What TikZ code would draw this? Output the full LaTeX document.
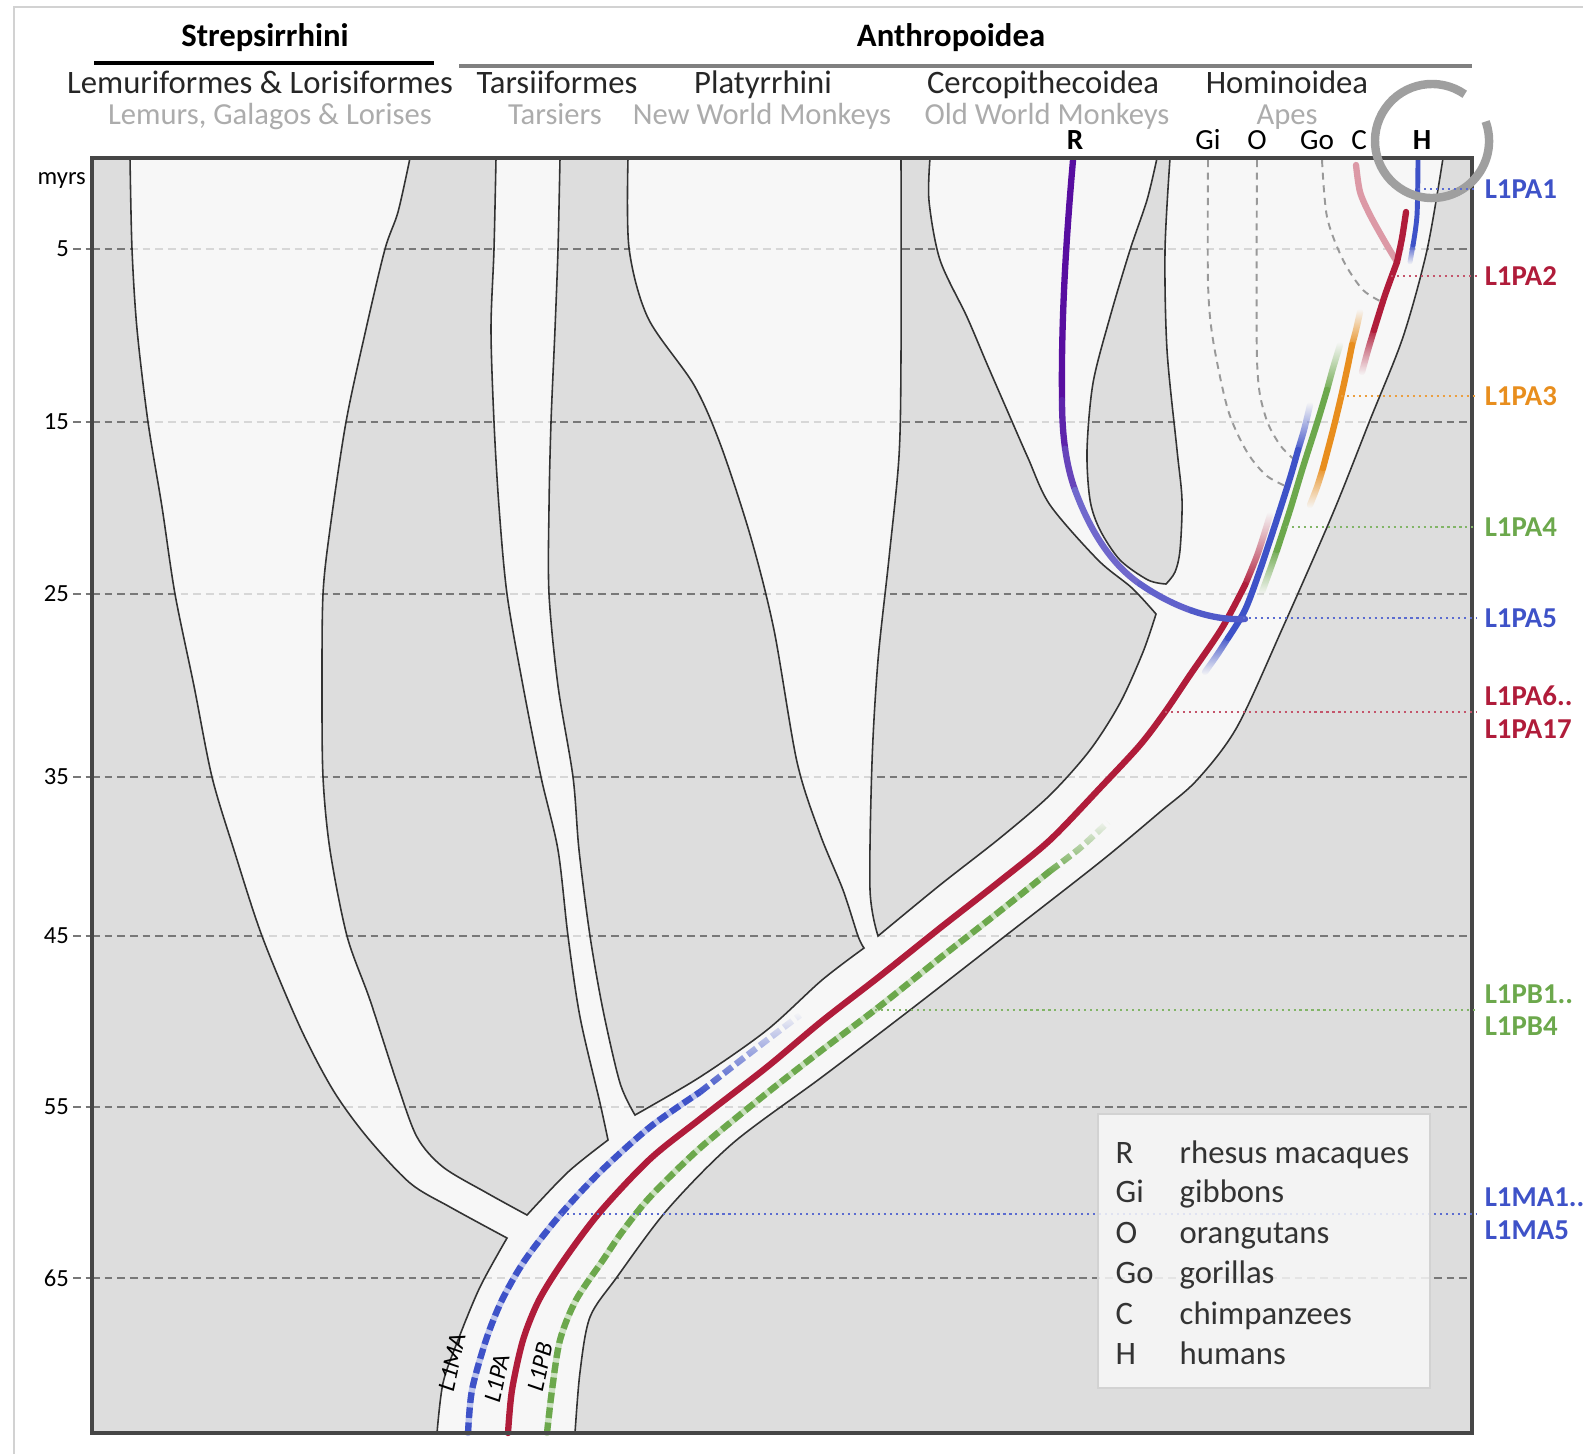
\documentclass[tikz,border=0pt]{standalone}
\usepackage{fontspec}
\setmainfont{Carlito}
\usetikzlibrary{fadings}

\definecolor{bgdark}{RGB}{221,221,221}
\definecolor{bglight}{RGB}{247,247,247}
\definecolor{l1blue}{RGB}{62,82,200}
\definecolor{l1red}{RGB}{176,28,58}
\definecolor{l1orange}{RGB}{232,142,30}
\definecolor{l1green}{RGB}{108,168,76}
\definecolor{rpurple}{RGB}{88,14,160}
\definecolor{rlav}{RGB}{112,104,204}
\definecolor{subgray}{RGB}{172,172,172}
\definecolor{gridgray}{RGB}{120,120,120}
\definecolor{framegray}{RGB}{70,70,70}

\tikzfading[name=fadetop, top color=transparent!100, bottom color=transparent!0]
\tikzfading[name=fadebottom, top color=transparent!0, bottom color=transparent!100]

% gaps between the lineages (grey areas of the plot)
\newcommand{\gapregions}{%
  (92,158) -- plot[smooth] coordinates {(130,158) (132,249) (137,329) (148,422) (162,507) (175,594) (194,686) (212,777) (234,850) (262,936) (300,1027) (333,1090) (367,1137) (410,1183) (450,1207) (507,1238)}
    -- plot[smooth] coordinates {(507,1238) (480,1287) (458,1340) (443,1383) (437,1433)} -- (92,1433) -- cycle
  (410,158) -- plot[smooth] coordinates {(496,158) (494,249) (491,329) (494,422) (499,507) (507,594) (523,686) (541,777) (558,850) (568,936) (580,1017) (600,1103) (608,1140)}
    -- plot[smooth] coordinates {(608,1140) (568,1172) (527,1215)}
    -- plot[smooth] coordinates {(527,1215) (487,1193) (443,1167) (417,1137) (397,1083) (370,1000) (347,936) (330,850) (323,777) (322,686) (323,594) (330,529) (346,422) (366,329) (385,249) (398,212) (410,158)} -- cycle
  (560,158) -- plot[smooth] coordinates {(628,158) (629,248) (648,318) (694,385) (721,446) (751,538) (774,630) (797,762) (820,834) (843,890) (858,936) (864,948)}
    -- plot[smooth] coordinates {(864,948) (822,980) (767,1030) (700,1077) (635,1115)}
    -- plot[smooth] coordinates {(635,1115) (620,1083) (603,1010) (590,936) (579,850) (573,777) (558,686) (549,594) (549,507) (551,422) (555,329) (558,249) (560,158)} -- cycle
  (901,158) -- plot[smooth] coordinates {(930,158) (929,201) (940,260) (967,317) (987,364) (1007,410) (1028,458) (1050,505) (1098,560) (1132,588) (1156,614)}
    -- plot[smooth] coordinates {(1156,614) (1143,652) (1120,703) (1090,750) (1050,795) (1000,838) (940,885) (878,936)}
    -- plot[smooth] coordinates {(878,936) (870,890) (872,762) (878,660) (889,558) (899,456) (901,354) (901,158)} -- cycle
  (1157,158) -- plot[smooth] coordinates {(1157,158) (1147,200) (1130,250) (1110,317) (1093,383) (1087,450) (1090,500) (1100,530) (1120,560) (1148,580) (1166,584)}
    -- plot[smooth] coordinates {(1166,584) (1175,572) (1180,550) (1182,500) (1177,450) (1167,350) (1165,250) (1170,158)} -- cycle
  (1443,158) -- (1472,158) -- (1472,1433) -- (575,1433)
    -- plot[smooth] coordinates {(575,1433) (580,1372) (590,1317) (617,1277) (667,1210) (733,1143) (822,1077) (910,1010) (1000,940) (1100,862) (1160,812) (1197,780) (1237,727) (1283,627) (1333,513) (1370,420) (1403,337) (1427,250) (1443,158)} -- cycle
}

\begin{document}
\begin{tikzpicture}[x=0.01cm, y=-0.01cm]

    % Define styles
    \tikzstyle{clade} = [anchor=base, inner sep=0, font=\fontsize{9.3}{11}\selectfont\bfseries]
    \tikzstyle{taxon} = [anchor=base, inner sep=0, font=\fontsize{9.3}{11}\selectfont, text=black!85]
    \tikzstyle{common} = [taxon, font=\fontsize{8.7}{10}\selectfont, text=subgray]
    \tikzstyle{species} = [anchor=base, inner sep=0, font=\fontsize{8.3}{10}\selectfont]
    \tikzstyle{agelabel} = [anchor=east, inner sep=1pt, font=\fontsize{7}{8}\selectfont]
    \tikzstyle{gridline} = [draw=gridgray, line width=0.6pt, dash pattern=on 2.2pt off 1.4pt]
    \tikzstyle{gridfaint} = [gridline, draw=gridgray!30]
    \tikzstyle{edgeline} = [draw=black!80, line width=0.45pt]
    \tikzstyle{lineage} = [line width=1.8pt, line cap=round]
    \tikzstyle{dashline} = [line cap=butt, dash pattern=on 3pt off 1.3pt]
    \tikzstyle{apedash} = [draw=gray!80, line width=0.55pt, dash pattern=on 2pt off 1.6pt]
    \tikzstyle{leader} = [line width=0.8pt, dash pattern=on 0.6pt off 1.1pt]
    \tikzstyle{famlabel} = [anchor=west, inner sep=2pt, align=left, font=\fontsize{8.2}{9.3}\selectfont\bfseries]
    \tikzstyle{trunklabel} = [rotate=78, inner sep=0, font=\fontsize{7}{8}\selectfont\itshape]
    \tikzstyle{legendtext} = [anchor=base west, inner sep=0, font=\fontsize{9.3}{11}\selectfont, text=black!80]

    \useasboundingbox (0,0) rectangle (1583,1454);
    \draw[gray!35, line width=0.5pt] (14,1454) -- (14,7) -- (1583,7);

    % Plot area and time grid
    \fill[bglight] (92,158) rectangle (1472,1433);
    \foreach \yy in {249,422,594,777,936,1107,1278}
        \draw[gridfaint] (92,\yy) -- (1472,\yy);
    \fill[bgdark] \gapregions;
    \begin{scope}
        \clip \gapregions;
        \foreach \yy in {249,422,594,777,936,1107,1278}
            \draw[gridline] (92,\yy) -- (1472,\yy);
    \end{scope}
    \draw[edgeline] \gapregions;
    \foreach \yy/\age in {249/5, 422/15, 594/25, 777/35, 936/45, 1107/55, 1278/65} {
        \node[agelabel] (age\age) at (73,\yy) {\age};
        \draw[gridline] (age\age.east) -- (92,\yy);
    }
    \node[agelabel] (myrs) at (90,180) {myrs};

    % Ape branches (dashed)
    \draw[apedash] plot[smooth] coordinates {(1208,160) (1208,283) (1213,340) (1228,410) (1247,452) (1267,476) (1290,488)};
    \draw[apedash] plot[smooth] coordinates {(1257,160) (1257,360) (1265,415) (1280,445) (1297,462)};
    \draw[apedash] plot[smooth] coordinates {(1322,160) (1327,217) (1343,260) (1363,290) (1384,303)};

    % L1PA (red)
    \draw[lineage, l1red] plot[smooth] coordinates {(508,1433) (512,1390) (523,1340) (539,1300) (564,1260) (600,1212) (650,1159) (700,1119) (767,1067) (822,1021) (880,976) (940,928) (1000,881) (1050,840) (1100,788) (1140,745) (1165,712) (1190,675) (1222,628) (1245,585)};
    \draw[lineage, l1red, path fading=fadetop] plot[smooth] coordinates {(1245,585) (1258,553) (1270,515)};

    % L1MA (blue, dashed)
    \draw[lineage, l1blue!35] plot[smooth] coordinates {(468,1433) (472,1390) (486,1340) (502,1300) (525,1260) (560,1215) (600,1172) (650,1127) (700,1092)};
    \draw[lineage, dashline, l1blue] plot[smooth] coordinates {(468,1433) (472,1390) (486,1340) (502,1300) (525,1260) (560,1215) (600,1172) (650,1127) (700,1092)};
    \draw[lineage, dashline, l1blue, path fading=fadetop] plot[smooth] coordinates {(700,1092) (750,1053) (800,1015)};

    % L1PB (green, dashed)
    \draw[lineage, l1green!35] plot[smooth] coordinates {(547,1433) (552,1390) (560,1340) (576,1300) (603,1260) (622,1232) (650,1197) (700,1148) (767,1093) (822,1050) (880,1006) (940,958) (1000,911) (1050,871)};
    \draw[lineage, dashline, l1green] plot[smooth] coordinates {(547,1433) (552,1390) (560,1340) (576,1300) (603,1260) (622,1232) (650,1197) (700,1148) (767,1093) (822,1050) (880,1006) (940,958) (1000,911) (1050,871)};
    \draw[lineage, dashline, l1green, path fading=fadetop] plot[smooth] coordinates {(1050,871) (1080,848) (1108,822)};

    % L1PA5 (blue)
    \draw[lineage, l1blue, path fading=fadebottom] plot[smooth] coordinates {(1205,672) (1217,655) (1228,638)};
    \draw[lineage, l1blue] plot[smooth] coordinates {(1228,638) (1245,610) (1260,570) (1275,525) (1290,478) (1298,450)};
    \draw[lineage, l1blue, path fading=fadetop] plot[smooth] coordinates {(1298,450) (1304,430) (1310,405)};

    % L1PA4 (green)
    \draw[lineage, l1green, path fading=fadebottom] plot[smooth] coordinates {(1262,592) (1270,570) (1277,550)};
    \draw[lineage, l1green] plot[smooth] coordinates {(1277,550) (1290,510) (1303,467) (1318,420) (1327,390)};
    \draw[lineage, l1green, path fading=fadetop] plot[smooth] coordinates {(1327,390) (1333,368) (1340,345)};

    % L1PA3 (orange)
    \draw[lineage, l1orange, path fading=fadebottom] plot[smooth] coordinates {(1310,505) (1317,487) (1323,468)};
    \draw[lineage, l1orange] plot[smooth] coordinates {(1323,468) (1333,430) (1341,397) (1348,365) (1352,345)};
    \draw[lineage, l1orange, path fading=fadetop] plot[smooth] coordinates {(1352,345) (1356,330) (1360,312)};

    % L1PA2 (red) and L1PA1 (blue)
    \draw[lineage, l1red, path fading=fadebottom] plot[smooth] coordinates {(1362,372) (1368,350) (1374,330)};
    \draw[lineage, l1red!45] plot[smooth] coordinates {(1397,262) (1385,242) (1370,215) (1360,192) (1356,165)};
    \draw[lineage, l1red] plot[smooth] coordinates {(1374,330) (1385,295) (1397,262)};
    \draw[lineage, l1red] plot[smooth] coordinates {(1397,262) (1402,238) (1406,212)};
    \draw[lineage, l1blue, line width=1.4pt] plot[smooth] coordinates {(1418,160) (1417,215) (1413,245)};
    \draw[lineage, l1blue, line width=1.4pt, path fading=fadebottom] (1413,245) -- (1410,262);

    % rhesus macaque lineage
    \draw[lineage, rpurple] (1073,160) .. controls (1066,240) and (1061,320) .. (1062,400);
    \draw[lineage, rpurple!75!rlav] (1062,400) .. controls (1062,417.5) and (1063,433.75) .. (1065.1,448.75);
    \draw[lineage, rpurple!40!rlav] (1065.1,448.75) .. controls (1067.25,463.75) and (1070.5,477.5) .. (1075,490);
    \draw[lineage, rlav] (1075,490) .. controls (1088,525) and (1108,562) .. (1140,584);
    \draw[lineage, rlav!70!l1blue] (1140,584) .. controls (1156,595) and (1173.5,604.25) .. (1191.4,610.5);
    \draw[lineage, rlav!35!l1blue] (1191.4,610.5) .. controls (1209.25,616.75) and (1227.5,620) .. (1245,619);

    % Plot frame
    \draw[framegray, line width=1pt] (92,158) rectangle (1472,1433);

    % Place header nodes
    \node[clade] (strep) at (265,46) {Strepsirrhini};
    \draw[black, line width=1.1pt] (94,63) -- (434,63);
    \node[clade] (anthro) at (951,46) {Anthropoidea};
    \draw[gray, line width=1pt] (459,66) -- (1472,66);

    \node[taxon] (lemuri) at (260,93) {Lemuriformes \& Lorisiformes};
    \node[taxon] (tarsii) at (557,93) {Tarsiiformes};
    \node[taxon] (platy) at (763,93) {Platyrrhini};
    \node[taxon] (cerco) at (1043,93) {Cercopithecoidea};
    \node[taxon] (homin) at (1287,93) {Hominoidea};
    \node[common] (lemurs) at (270,124) {Lemurs, Galagos \& Lorises};
    \node[common] (tarsiers) at (555,124) {Tarsiers};
    \node[common] (nwm) at (762,124) {New World Monkeys};
    \node[common] (owm) at (1047,124) {Old World Monkeys};
    \node[common] (apes) at (1287,124) {Apes};

    \node[species, font=\fontsize{8.3}{10}\selectfont\bfseries] (spR) at (1075,149) {R};
    \node[species] (spGi) at (1208,149) {Gi};
    \node[species] (spO) at (1257,149) {O};
    \node[species] (spGo) at (1317,149) {Go};
    \node[species] (spC) at (1359,149) {C};
    \node[species, font=\fontsize{8.3}{10}\selectfont\bfseries] (spH) at (1422,149) {H};
    \draw[gray!75, line width=2.4pt] (1432,141) ++(55:0.57cm) arc[start angle=55, end angle=380, radius=0.57cm];

    % Trunk labels
    \node[trunklabel] (mafam) at (452,1362) {L1MA};
    \node[trunklabel] (pafam) at (497,1378) {L1PA};
    \node[trunklabel] (pbfam) at (540,1367) {L1PB};

    % Subfamily labels
    \node[famlabel, text=l1blue] (pa1) at (1477,189) {L1PA1};
    \node[famlabel, text=l1red] (pa2) at (1477,276) {L1PA2};
    \node[famlabel, text=l1orange] (pa3) at (1477,396) {L1PA3};
    \node[famlabel, text=l1green] (pa4) at (1477,527) {L1PA4};
    \node[famlabel, text=l1blue] (pa5) at (1477,618) {L1PA5};
    \node[famlabel, text=l1red] (pa6) at (1477,712) {L1PA6..\\L1PA17};
    \node[famlabel, text=l1green] (pb) at (1477,1010) {L1PB1..\\L1PB4};
    \node[famlabel, text=l1blue] (ma) at (1477,1214) {L1MA1..\\L1MA5};

    \coordinate (pa1start) at (1418,189);
    \coordinate (pa2start) at (1391,276);
    \coordinate (pa3start) at (1341,396);
    \coordinate (pa4start) at (1286,527);
    \coordinate (pa5start) at (1243,618);
    \coordinate (pa6start) at (1165,712);
    \coordinate (pbstart) at (875,1010);
    \coordinate (mastart) at (561,1214);

    % Draw leaders
    \draw[leader, l1blue!85] (pa1start) -- (pa1.west);
    \draw[leader, l1red!75] (pa2start) -- (pa2.west);
    \draw[leader, l1orange!85] (pa3start) -- (pa3.west);
    \draw[leader, l1green!85] (pa4start) -- (pa4.west);
    \draw[leader, l1blue!85] (pa5start) -- (pa5.west);
    \draw[leader, l1red!75] (pa6start) -- (pa6.west);
    \draw[leader, l1green!85] (pbstart) -- (pb.west);
    \draw[leader, l1blue!85] (mastart) -- (ma.west);

    % Legend
    \node[draw=gray!35, fill=bglight, fill opacity=0.85, minimum width=3.32cm, minimum height=2.74cm, inner sep=0] (legendbox) at (1264,1251) {};
    \foreach \yy/\ab/\nm [count=\i] in {1163/R/rhesus macaques, 1202/Gi/gibbons, 1243/O/orangutans, 1283/Go/gorillas, 1324/C/chimpanzees, 1364/H/humans} {
        \node[legendtext] (ab\i) at (1115,\yy) {\ab};
        \node[legendtext] (nm\i) at (1179,\yy) {\nm};
    }

\end{tikzpicture}
\end{document}
